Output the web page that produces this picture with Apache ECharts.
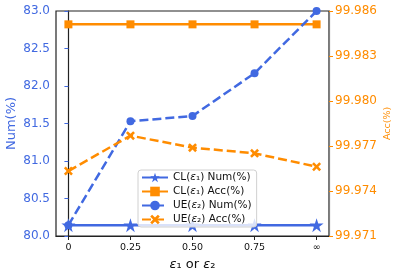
<!DOCTYPE html>
<html><head><meta charset="utf-8">
<script src="https://cdn.jsdelivr.net/npm/echarts@6/dist/echarts.min.js"></script>
<style>html,body{margin:0;padding:0;background:#fff}#c{width:399px;height:273px}</style>
</head><body><div id="c"></div>
<script>
const xLabels = ['0', '0.25', '0.50', '0.75', '∞'];
const xPos = [0, 1, 2, 3, 4];
const clNum = [80.145, 80.145, 80.145, 80.145, 80.145];
const clAcc = [99.98511, 99.98511, 99.98511, 99.98511, 99.98511];
const ueNum = [80.145, 81.53, 81.60, 82.17, 83.0];
const ueAcc = [99.97533, 99.97769, 99.97689, 99.97651, 99.97562];
const leftTicks = {min: 80.0, max: 83.0, interval: 0.5};
const rightTicks = {min: 99.971, max: 99.986, interval: 0.003};

const BLUE = '#4169E1', ORANGE = '#FF8C00';
const STAR = 'path://M0,-10L2.245,-3.09L9.511,-3.09L3.633,1.18L5.878,8.09L0,3.82L-5.878,8.09L-3.633,1.18L-9.511,-3.09L-2.245,-3.09Z';
const XMARK = 'path://M-1,-0.6L-0.6,-1L0,-0.4L0.6,-1L1,-0.6L0.4,0L1,0.6L0.6,1L0,0.4L-0.6,1L-1,0.6L-0.4,0Z';
const pts = arr => xPos.map((x, i) => [x, arr[i]]);
const FONT = 'DejaVu Sans';

const names = ['CL(ε₁) Num(%)', 'CL(ε₁) Acc(%)', 'UE(ε₂) Num(%)', 'UE(ε₂) Acc(%)'];

const chart = echarts.init(document.getElementById('c'), null, {renderer: 'canvas'});
chart.setOption({
  animation: false,
  textStyle: {fontFamily: FONT},
  grid: {left: 56, right: 70, top: 11, bottom: 37, containLabel: false, outerBoundsMode: 'none',
    show: true, borderColor: '#222', borderWidth: 1.2, backgroundColor: 'transparent'},
  legend: {
    data: names, left: 138, top: 170, orient: 'vertical',
    itemWidth: 26, itemHeight: 12, itemGap: 3,
    padding: [2, 5, 2, 3],
    backgroundColor: 'rgba(255,255,255,0.8)', borderColor: '#d0d0d0', borderWidth: 1, borderRadius: 3,
    textStyle: {fontFamily: FONT, fontSize: 10.5, color: '#111',
      rich: {e: {fontStyle: 'italic', fontSize: 10.5, fontFamily: FONT, color: '#111'}}},
    formatter: n => n.replace('ε', '{e|ε}')
  },
  xAxis: {
    type: 'value', min: -0.2, max: 4.2,
    name: '{e|ε}₁ or {e|ε}₂', nameLocation: 'middle', nameGap: 22, nameMoveOverlap: false,
    nameTextStyle: {fontFamily: FONT, fontSize: 13, color: '#111',
      rich: {e: {fontStyle: 'italic', fontSize: 13, fontFamily: FONT, color: '#111'}}},
    axisLine: {show: true, onZero: false, lineStyle: {color: '#222', width: 1.2}},
    axisTick: {show: true, customValues: xPos, length: 4, lineStyle: {color: '#222'}},
    axisLabel: {customValues: xPos, formatter: v => xLabels[Math.round(v)], fontSize: 9.5, color: '#111', margin: 7, fontFamily: FONT},
    splitLine: {show: false}
  },
  yAxis: [{
    type: 'value', position: 'left', min: leftTicks.min, max: leftTicks.max, interval: leftTicks.interval,
    name: 'Num(%)', nameLocation: 'middle', nameGap: 38, nameMoveOverlap: false,
    nameTextStyle: {color: BLUE, fontSize: 13, fontFamily: FONT},
    axisLine: {show: true, lineStyle: {color: '#222', width: 1.2}},
    axisTick: {show: true, length: 4, lineStyle: {color: BLUE}},
    axisLabel: {color: BLUE, fontSize: 12, margin: 6, fontFamily: FONT, formatter: v => v.toFixed(1)},
    splitLine: {show: false}
  }, {
    type: 'value', position: 'right', min: rightTicks.min, max: rightTicks.max, interval: rightTicks.interval,
    name: 'Acc(%)', nameLocation: 'middle', nameGap: 54, nameRotate: 90, nameMoveOverlap: false,
    nameTextStyle: {color: ORANGE, fontSize: 9.5, fontFamily: FONT},
    axisLine: {show: true, lineStyle: {color: '#808080', width: 1.2}},
    axisTick: {show: true, length: 4, lineStyle: {color: ORANGE}},
    axisLabel: {color: ORANGE, fontSize: 12, margin: 6, fontFamily: FONT, formatter: v => v.toFixed(3)},
    splitLine: {show: false}
  }],
  series: [
    {name: names[0], type: 'line', yAxisIndex: 0, data: pts(clNum), symbol: STAR, symbolSize: 14,
      lineStyle: {color: BLUE, width: 2.5}, itemStyle: {color: BLUE}, z: 3},
    {name: names[1], type: 'line', yAxisIndex: 1, data: pts(clAcc), symbol: 'rect', symbolSize: 8,
      lineStyle: {color: ORANGE, width: 2.5}, itemStyle: {color: ORANGE}, z: 3},
    {name: names[2], type: 'line', yAxisIndex: 0, data: pts(ueNum), symbol: 'circle', symbolSize: 8,
      lineStyle: {color: BLUE, width: 2.5, type: [9, 4]}, itemStyle: {color: BLUE}, z: 3},
    {name: names[3], type: 'line', yAxisIndex: 1, data: pts(ueAcc), symbol: XMARK, symbolSize: 9,
      lineStyle: {color: ORANGE, width: 2.5, type: [9, 4]}, itemStyle: {color: ORANGE}, z: 3}
  ]
});
</script></body></html>
